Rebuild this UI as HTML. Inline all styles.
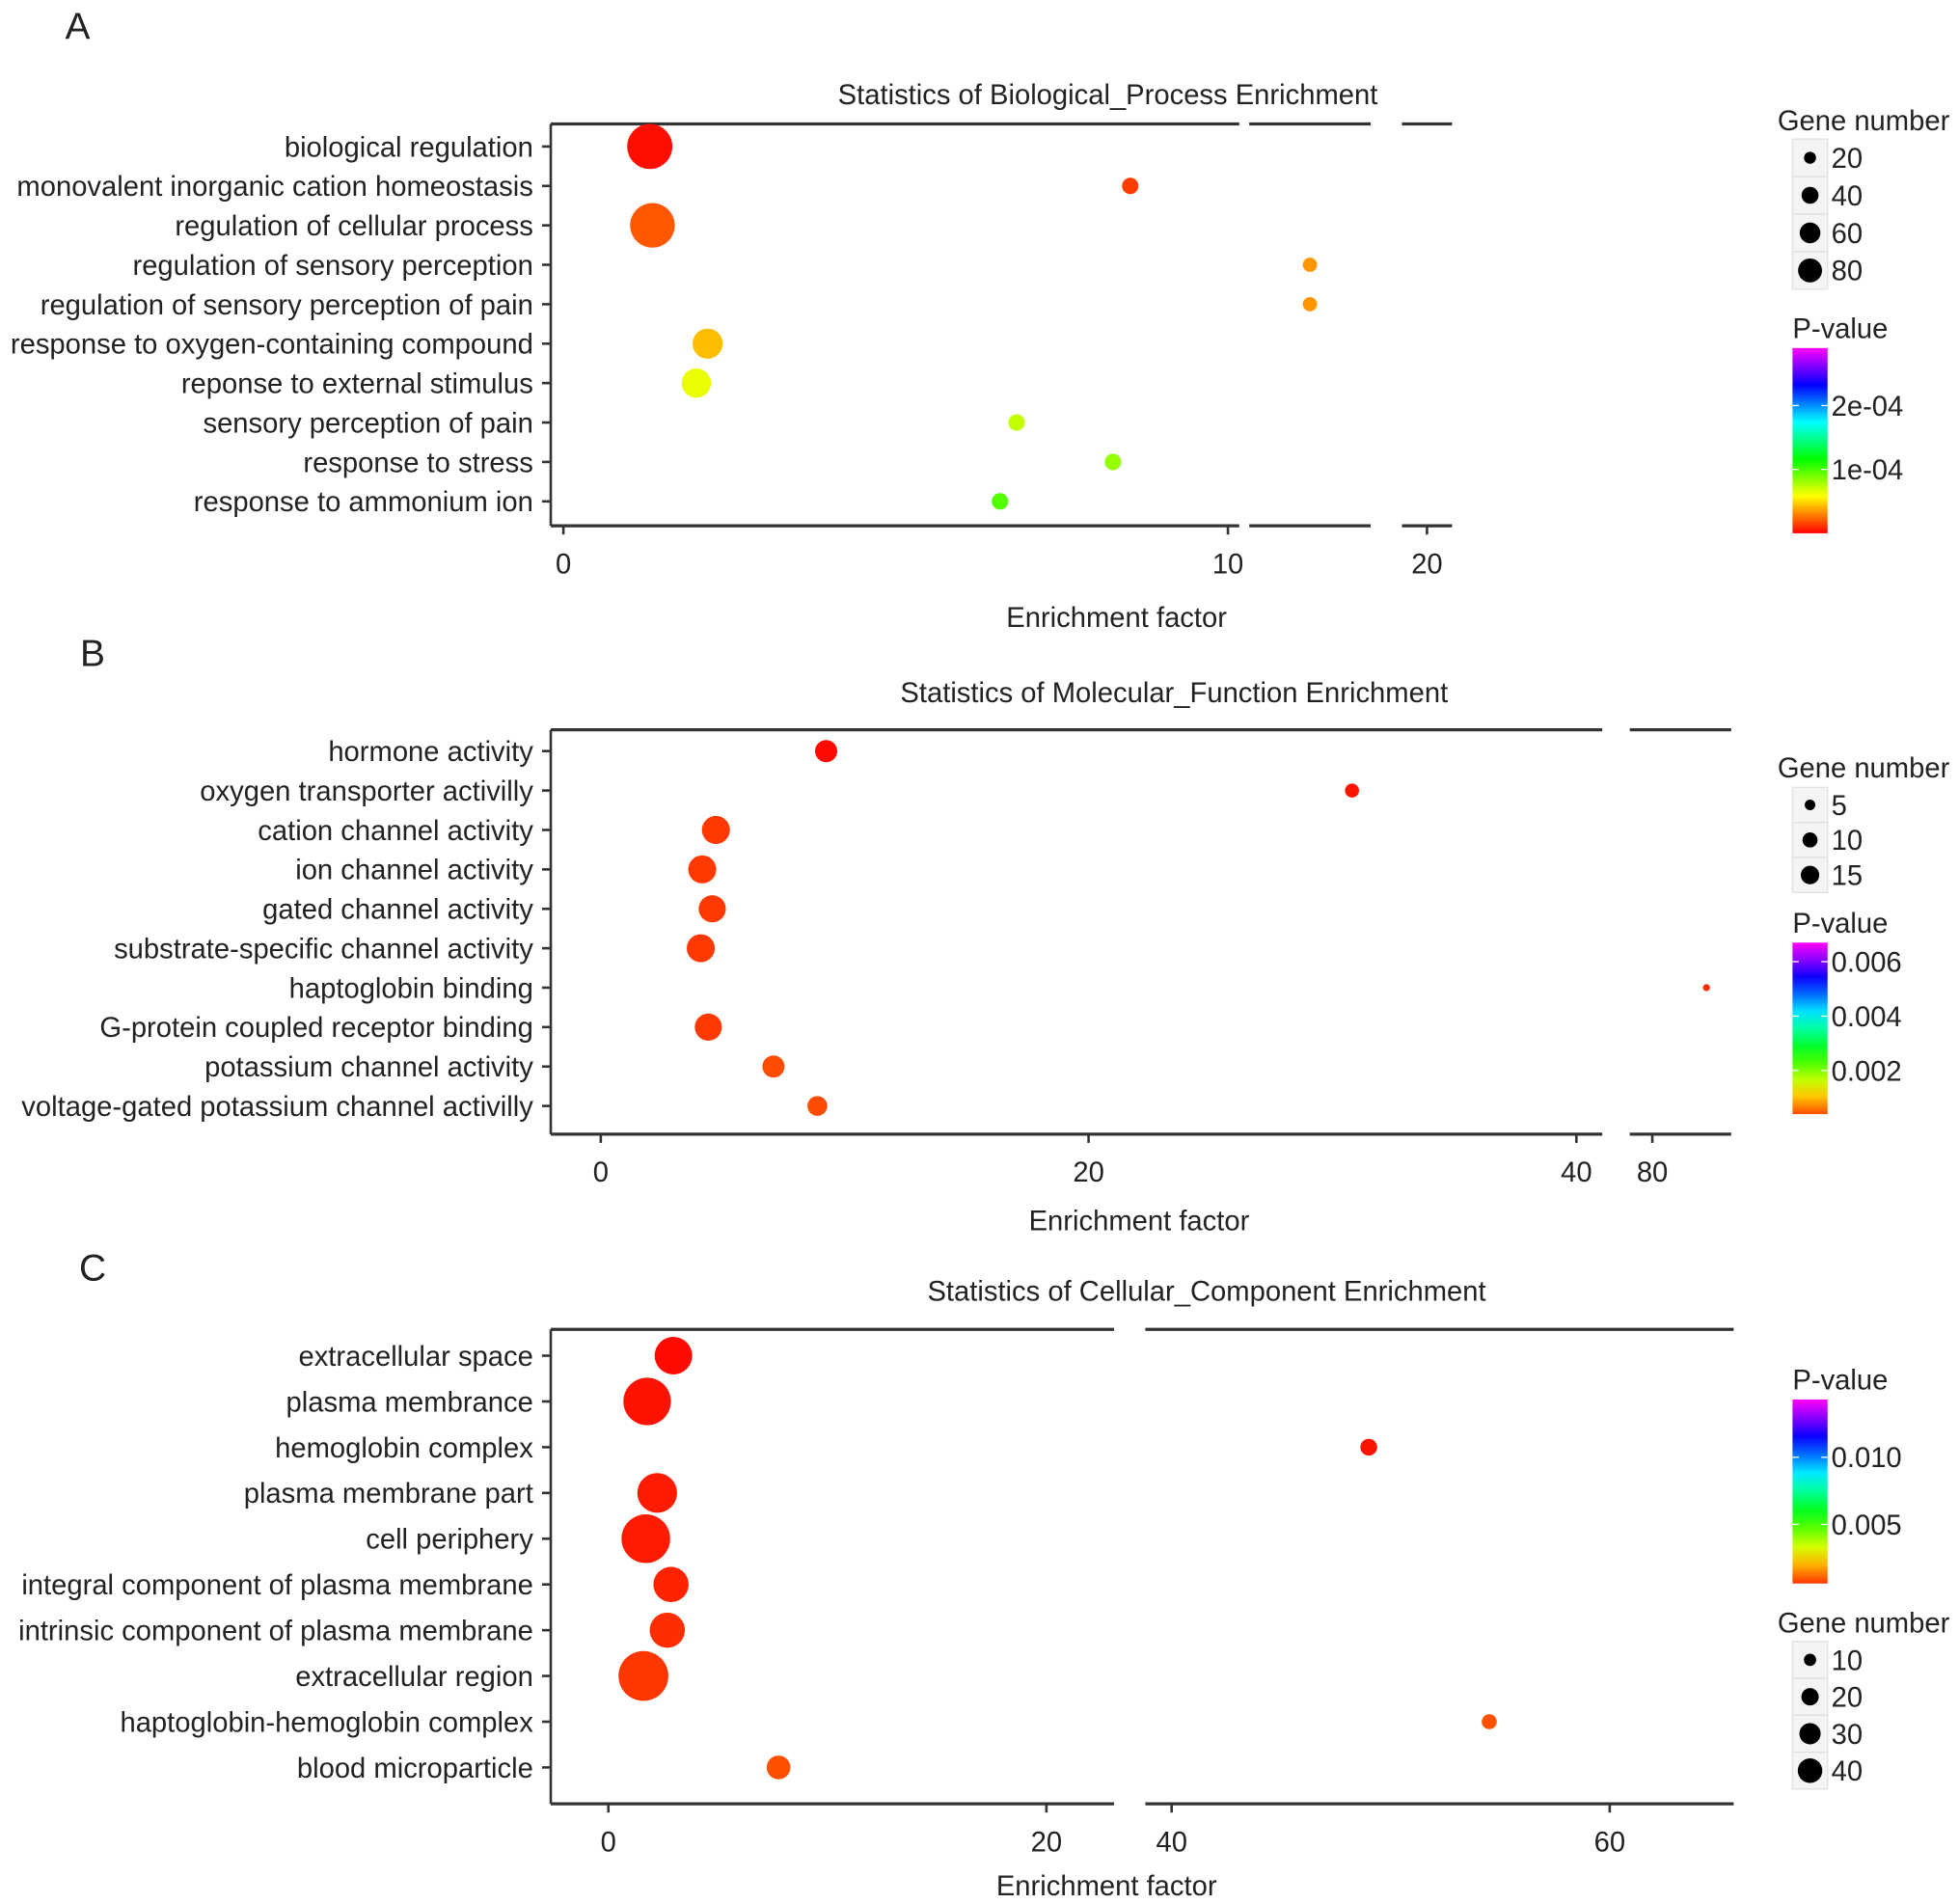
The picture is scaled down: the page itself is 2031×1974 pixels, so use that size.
<!DOCTYPE html>
<html><head><meta charset="utf-8"><style>html,body{margin:0;padding:0;background:#fff}svg{display:block}</style></head>
<body>
<svg id="fig" width="2031" height="1974" viewBox="0 0 1565 1521" xmlns="http://www.w3.org/2000/svg" font-family="Liberation Sans, Arial, sans-serif"></svg>
<script>
// ---- Panel A data ----
const catsA = ["biological regulation","monovalent inorganic cation homeostasis","regulation of cellular process","regulation of sensory perception","regulation of sensory perception of pain","response to oxygen-containing compound","reponse to external stimulus","sensory perception of pain","response to stress","response to ammonium ion"];
const efA = [1.3,8.53,1.34,13.0,13.0,2.17,2.0,6.82,8.27,6.57];
const genesA = [90,12,88,9,9,40,38,12,12,12];
const pvalA = [0.000003,0.000014,0.00002,0.000034,0.000034,0.000043,0.000063,0.000072,0.000082,0.000097];
const ticksA = [0,10,20];
const sizeKeysA = [20,40,60,80];
const cbarLabelsA = ["2e-04","1e-04"];
const cbarValsA = [0.0002,0.0001];
// ---- Panel B data ----
const catsB = ["hormone activity","oxygen transporter activilly","cation channel activity","ion channel activity","gated channel activity","substrate-specific channel activity","haptoglobin binding","G-protein coupled receptor binding","potassium channel activity","voltage-gated potassium channel activilly"];
const efB = [9.24,30.8,4.72,4.16,4.57,4.1,82.4,4.41,7.08,8.88];
const genesB = [10,4,16,16,15,16,1,15,10,8];
const pvalB = [0.00005,0.0001,0.0003,0.0003,0.0003,0.0003,0.0002,0.0003,0.0004,0.0004];
const ticksB = [0,20,40,80];
const sizeKeysB = [5,10,15];
const cbarLabelsB = ["0.006","0.004","0.002"];
const cbarValsB = [0.006,0.004,0.002];
// ---- Panel C data ----
const catsC = ["extracellular space","plasma membrance","hemoglobin complex","plasma membrane part","cell periphery","integral component of plasma membrane","intrinsic component of plasma membrane","extracellular region","haptoglobin-hemoglobin complex","blood microparticle"];
const efC = [2.97,1.77,49.0,2.23,1.71,2.86,2.69,1.6,54.5,7.77];
const genesC = [25,40,5,28,42,22,22,44,4,10];
const pvalC = [0.0001,0.0002,0.0002,0.0003,0.0003,0.0004,0.0005,0.0006,0.0009,0.0009];
const ticksC = [0,20,40,60];
const sizeKeysC = [10,20,30,40];
const cbarLabelsC = ["0.010","0.005"];
const cbarValsC = [0.010,0.005];

const FS=22.5;
const NS="http://www.w3.org/2000/svg";
const svg=document.getElementById('fig');
function el(tag,attrs,parent){const e=document.createElementNS(NS,tag);for(const k in attrs)e.setAttribute(k,attrs[k]);(parent||svg).appendChild(e);return e;}
function txt(s,x,y,size,anchor,parent){const t=el('text',{x:x,y:y,'font-size':size,'text-anchor':anchor||'start',fill:'#222'},parent);t.textContent=s;return t;}
function makeScale(segs){return v=>{for(const s of segs){if(v>=s.d0&&v<=s.d1)return s.r0+(v-s.d0)/(s.d1-s.d0)*(s.r1-s.r0);}const s=segs[segs.length-1];return s.r0+(v-s.d0)/(s.d1-s.d0)*(s.r1-s.r0);};}
function color(p,pmax){const t=Math.max(0,Math.min(1,p/pmax));return 'hsl('+(300*t).toFixed(1)+',100%,50%)';}

function panel(o){
  const g=el('g',{});
  
  
  const L=txt(o.letter,o.letterX,o.letterY,30,'middle',g);
  
  const T=txt(o.title,o.titleX,o.titleY,FS,'middle',g);
  
  const x=makeScale(o.segs);
  const yOf=i=>o.rowTop+i*o.rowStep;
  for(const s of o.segs){
    const a=el('line',{x1:s.r0,x2:s.r1,y1:o.top,y2:o.top,stroke:'#333','stroke-width':2.5},g);
    
    const b=el('line',{x1:s.r0,x2:s.r1,y1:o.bottom,y2:o.bottom,stroke:'#333','stroke-width':2.5},g);
    
  }
  const ya=el('line',{x1:o.segs[0].r0,x2:o.segs[0].r0,y1:o.top,y2:o.bottom,stroke:'#333','stroke-width':2},g);
  
  o.cats.forEach((c,i)=>{
    const y=yOf(i);
    el('line',{x1:o.segs[0].r0-7,x2:o.segs[0].r0,y1:y,y2:y,stroke:'#333','stroke-width':2},g);
    const t=txt(c,o.segs[0].r0-14,y+8,FS,'end',g);
    
  });
  o.ticks.forEach(v=>{
    const px=x(v);
    el('line',{x1:px,x2:px,y1:o.bottom,y2:o.bottom+7,stroke:'#333','stroke-width':2},g);
    const t=txt(String(v),px,o.bottom+38,FS,'middle',g);
    
  });
  const xt=txt('Enrichment factor',o.xtitleX,o.bottom+o.xtitleOff,FS,'middle',g);
  
  o.cats.forEach((c,i)=>{
    const d=el('circle',{cx:x(o.ef[i]),cy:yOf(i),r:o.k*Math.sqrt(o.genes[i]),fill:color(o.pval[i],o.pmax)},g);
    
    
  });
  const sl=el('g',{},g);
  
  txt('Gene number',o.sizeLegX-12,o.sizeLegY,FS,'start',sl);
  o.sizeKeys.forEach((v,i)=>{
    const cy=o.sizeLegY+22+i*o.sizeStep;
    el('rect',{x:o.sizeLegX,y:cy-o.sizeStep/2,width:28,height:o.sizeStep,fill:'#f4f4f4',stroke:'#e0e0e0'},sl);
    const c=el('circle',{cx:o.sizeLegX+14,cy:cy,r:o.kl*Math.sqrt(v),fill:'#000'},sl);
    
    txt(String(v),o.sizeLegX+31,cy+8,FS,'start',sl);
  });
  const cl=el('g',{},g);
  
  txt('P-value',o.cbX,o.cbTop-8,FS,'start',cl);
  const gid='grad'+o.letter;
  const lg=el('linearGradient',{id:gid,x1:0,y1:1,x2:0,y2:0},el('defs',{},cl));
  const h0=300*o.pmin/o.pmax;
  for(let i=0;i<=10;i++){el('stop',{offset:i/10,'stop-color':'hsl('+(h0+(300-h0)*i/10)+',100%,50%)'},lg);}
  const bar=el('rect',{x:o.cbX,y:o.cbTop,width:28,height:o.cbBot-o.cbTop,fill:'url(#'+gid+')'},cl);
  
  const cy=v=>o.cbBot-(v-o.pmin)/(o.pmax-o.pmin)*(o.cbBot-o.cbTop);
  o.cbLabels.forEach((s,i)=>{
    const yy=cy(o.cbVals[i]);
    el('line',{x1:o.cbX,x2:o.cbX+5,y1:yy,y2:yy,stroke:'#fff','stroke-width':1},cl);
    el('line',{x1:o.cbX+23,x2:o.cbX+28,y1:yy,y2:yy,stroke:'#fff','stroke-width':1},cl);
    txt(s,o.cbX+31,yy+8,FS,'start',cl);
  });
}

panel({name:'panel-a-biological-process',letter:'A',letterX:62,letterY:31,title:'Statistics of Biological_Process Enrichment',titleX:885,titleY:83,
  cats:catsA,ef:efA,genes:genesA,pval:pvalA,ticks:ticksA,sizeKeys:sizeKeysA,cbLabels:cbarLabelsA,cbVals:cbarValsA,
  segs:[{d0:-0.19,d1:10.17,r0:440,r1:990},{d0:11.9,d1:14.1,r0:998,r1:1095},{d0:19.5,d1:20.5,r0:1120,r1:1160}],
  top:99,bottom:420,rowTop:117,rowStep:31.5,k:1.9,kl:1.07,pmax:0.00029,pmin:0,xtitleX:892,xtitleOff:81,
  sizeLegX:1432,sizeLegY:104,sizeStep:30,cbX:1432,cbTop:278,cbBot:426});
panel({name:'panel-b-molecular-function',letter:'B',letterX:74,letterY:532,title:'Statistics of Molecular_Function Enrichment',titleX:938,titleY:561,
  cats:catsB,ef:efB,genes:genesB,pval:pvalB,ticks:ticksB,sizeKeys:sizeKeysB,cbLabels:cbarLabelsB,cbVals:cbarValsB,
  segs:[{d0:-2.05,d1:41.06,r0:440,r1:1280},{d0:79,d1:83.5,r0:1302,r1:1383}],
  top:583,bottom:906,rowTop:600,rowStep:31.5,k:2.8,kl:1.9,pmax:0.0067,pmin:0.0004,xtitleX:910,xtitleOff:77,
  sizeLegX:1432,sizeLegY:621,sizeStep:28,cbX:1432,cbTop:753,cbBot:890});
panel({name:'panel-c-cellular-component',letter:'C',letterX:74,letterY:1023,title:'Statistics of Cellular_Component Enrichment',titleX:964,titleY:1039,
  cats:catsC,ef:efC,genes:genesC,pval:pvalC,ticks:ticksC,sizeKeys:sizeKeysC,cbLabels:cbarLabelsC,cbVals:cbarValsC,
  segs:[{d0:-2.63,d1:23.09,r0:440,r1:890},{d0:38.8,d1:65.66,r0:915,r1:1385}],
  top:1062,bottom:1441,rowTop:1083,rowStep:36.55,k:3.0,kl:1.55,pmax:0.0143,pmin:0.0006,xtitleX:884,xtitleOff:73,
  sizeLegX:1432,sizeLegY:1304,sizeStep:29.5,cbX:1432,cbTop:1118,cbBot:1265});
</script>
</body></html>
